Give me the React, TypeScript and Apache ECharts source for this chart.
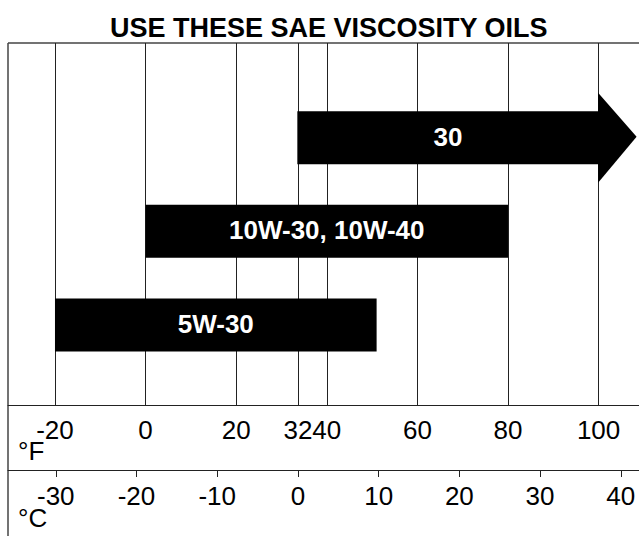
import React, { useEffect, useRef } from "react";
import * as echarts from "echarts";

// ---------- data ----------
const TITLE = "USE THESE SAE VISCOSITY OILS";
const F_TICKS = [-20, 0, 20, 40, 60, 80, 100];
const C_TICKS = [-30, -20, -10, 0, 10, 20, 30, 40];
const FREEZE_C = 0; // the 32 °F line sits at 0 °C
const FREEZE_F_LABEL = "32";
const OIL_NAMES = ["5W-30", "10W-30, 10W-40", "30"];
const OIL_START_F = [-20, 0, 33.5];
const OIL_END_F = [51, 80, 100];
const OIL_ROW = [1, 2, 3];
const OIL_OPEN_END = [0, 0, 1];
const UNIT_F = "°F";
const UNIT_C = "°C";

// axis windows (chosen so both scales line up as in the original)
const F_MIN = -30.37;
const F_MAX = 108.92;
const C_MIN = -35.92;
const C_MAX = 42.26;
const Y_MIN = 0.144;
const Y_MAX = 4.012;

const FONT = "'Liberation Sans', Arial, Helvetica, sans-serif";

export default function App() {
  const ref = useRef<HTMLDivElement>(null);

  useEffect(() => {
    if (!ref.current) return;
    const chart = echarts.init(ref.current, undefined, { renderer: "svg" });

    const oilData = OIL_NAMES.map((_, i) => [
      OIL_START_F[i],
      OIL_END_F[i],
      OIL_ROW[i],
      OIL_OPEN_END[i],
    ]);

    const option: any = {
      animation: false,
      backgroundColor: "#fff",
      textStyle: { fontFamily: FONT },
      title: {
        text: TITLE,
        left: 105,
        top: 9,
        textStyle: { fontFamily: FONT, fontSize: 27, fontWeight: "bold", color: "#000" },
      },
      grid: { left: 8, right: 0, top: 43, bottom: 131, containLabel: false },
      xAxis: [
        {
          type: "value",
          min: F_MIN,
          max: F_MAX,
          position: "bottom",
          axisLine: { show: true, lineStyle: { color: "#222", width: 1 } },
          axisTick: { show: false },
          splitLine: { show: false },
          axisLabel: {
            customValues: F_TICKS,
            fontSize: 26,
            color: "#000",
            fontFamily: FONT,
            margin: 12,
          },
        },
        {
          type: "value",
          min: C_MIN,
          max: C_MAX,
          position: "bottom",
          offset: 65,
          axisLine: { show: true, lineStyle: { color: "#222", width: 1 } },
          axisTick: {
            show: true,
            customValues: C_TICKS,
            length: 7,
            lineStyle: { color: "#222", width: 1 },
          },
          splitLine: { show: false },
          axisLabel: {
            customValues: C_TICKS,
            fontSize: 26,
            color: "#000",
            fontFamily: FONT,
            margin: 13,
          },
        },
      ],
      yAxis: {
        type: "value",
        min: Y_MIN,
        max: Y_MAX,
        show: false,
      },
      graphic: [
        {
          type: "line",
          shape: { x1: 8, y1: 43, x2: 639, y2: 43 },
          style: { stroke: "#444", lineWidth: 1.5 },
          silent: true,
        },
        {
          type: "line",
          shape: { x1: 8, y1: 43, x2: 8, y2: 536 },
          style: { stroke: "#444", lineWidth: 1.5 },
          silent: true,
        },
        {
          type: "text",
          x: 18,
          y: 451,
          style: {
            text: UNIT_F,
            font: `26px ${FONT}`,
            fill: "#000",
            verticalAlign: "middle",
            lineHeight: 18,
          },
          silent: true,
        },
        {
          type: "text",
          x: 18,
          y: 518,
          style: {
            text: UNIT_C,
            font: `26px ${FONT}`,
            fill: "#000",
            verticalAlign: "middle",
            lineHeight: 18,
          },
          silent: true,
        },
      ],
      series: [
        {
          type: "line",
          xAxisIndex: 0,
          yAxisIndex: 0,
          data: [],
          silent: true,
          markLine: {
            silent: true,
            symbol: ["none", "none"],
            lineStyle: { color: "#222", width: 1, type: "solid" },
            label: { show: false },
            emphasis: { disabled: true },
            data: F_TICKS.map((v) => ({ xAxis: v })),
          },
        },
        {
          type: "line",
          xAxisIndex: 1,
          yAxisIndex: 0,
          data: [],
          silent: true,
          markLine: {
            silent: true,
            symbol: ["none", "none"],
            lineStyle: { color: "#222", width: 1, type: "solid" },
            label: {
              show: true,
              position: "start",
              formatter: FREEZE_F_LABEL,
              fontSize: 26,
              color: "#000",
              fontFamily: FONT,
              distance: 12,
            },
            emphasis: { disabled: true },
            data: [{ xAxis: FREEZE_C }],
          },
        },
        {
          type: "custom",
          xAxisIndex: 0,
          yAxisIndex: 0,
          z: 10,
          silent: true,
          encode: { x: [0, 1], y: 2 },
          data: oilData,
          renderItem: (params: any, api: any) => {
            const s = api.value(0);
            const e = api.value(1);
            const row = api.value(2);
            const open = api.value(3);
            const p0 = api.coord([s, row]);
            const p1 = api.coord([e, row]);
            const h = 53;
            const cy = p0[1];
            const children: any[] = [
              {
                type: "rect",
                shape: { x: p0[0], y: cy - h / 2, width: p1[0] - p0[0], height: h },
                style: { fill: "#000" },
              },
            ];
            if (open) {
              children.push({
                type: "polygon",
                shape: {
                  points: [
                    [p1[0] - 0.5, cy - 45],
                    [p1[0] + 38, cy - 1],
                    [p1[0] - 0.5, cy + 45],
                  ],
                },
                style: { fill: "#000" },
              });
            }
            children.push({
              type: "text",
              x: (p0[0] + p1[0]) / 2,
              y: cy - 1,
              style: {
                text: OIL_NAMES[params.dataIndex],
                fill: "#fff",
                font: `bold 26px ${FONT}`,
                align: "center",
                verticalAlign: "middle",
              },
            });
            return { type: "group", children };
          },
        },
      ],
    };

    chart.setOption(option);
    return () => chart.dispose();
  }, []);

  return (
    <div
      ref={ref}
      style={{ position: "fixed", left: 0, top: 0, width: 639, height: 536, background: "#fff" }}
    />
  );
}
